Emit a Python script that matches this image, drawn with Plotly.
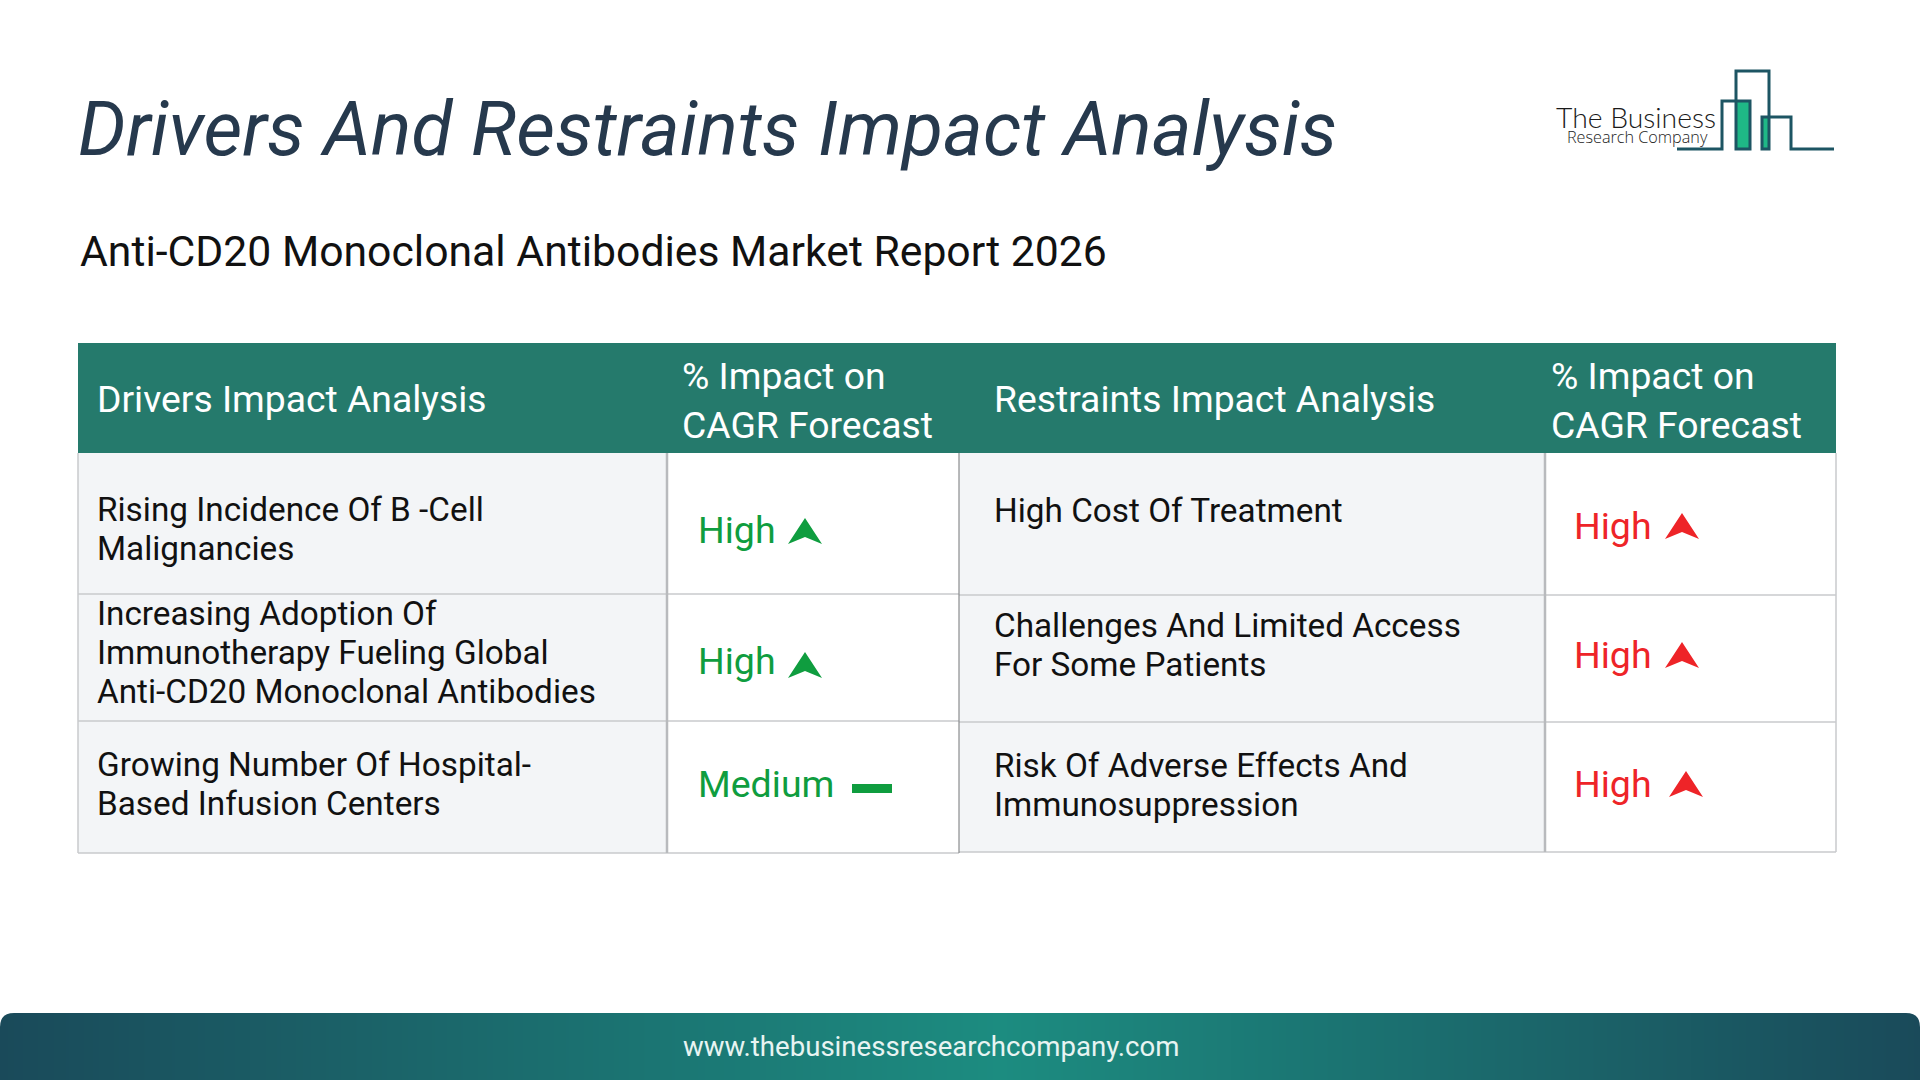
import plotly.graph_objects as go

# ---------- content ----------
title_text = "Drivers And Restraints Impact Analysis"
subtitle_text = "Anti-CD20 Monoclonal Antibodies Market Report 2026"
header_labels = ["Drivers Impact Analysis", "% Impact on<br>CAGR Forecast",
                 "Restraints Impact Analysis", "% Impact on<br>CAGR Forecast"]
drivers = ["Rising Incidence Of B -Cell<br>Malignancies",
           "Increasing Adoption Of<br>Immunotherapy Fueling Global<br>Anti-CD20 Monoclonal Antibodies",
           "Growing Number Of Hospital-<br>Based Infusion Centers"]
driver_impact = ["High", "High", "Medium"]
restraints = ["High Cost Of Treatment",
              "Challenges And Limited Access<br>For Some Patients",
              "Risk Of Adverse Effects And<br>Immunosuppression"]
restraint_impact = ["High", "High", "High"]
footer_text = "www.thebusinessresearchcompany.com"
logo_lines = ["The Business", "Research Company"]

# ---------- layout geometry (page pixels) ----------
X = [78, 667, 959, 1545, 1836]
HEAD_TOP, HEAD_BOT = 343, 453
ROW_L = [453, 594, 721, 853]
ROW_R = [453, 595, 722, 852]
LINE_H = 39
HEAD_LINE_H = 49
TEXT_X = [94.5, 679.5, 991.5, 1549]
IMPACT_X = [695.5, 1571.5]
D_TEXT_Y = [529, 652.5, 784]
R_TEXT_Y = [510, 645, 785]
D_IMP_Y = [530, 661, 784]
R_IMP_Y = [526, 655, 784]
D_ARROW_X = [805, 805, 0]
D_ARROW_Y = [544, 678, 0]
R_ARROW_X = [1682, 1682, 1686]
R_ARROW_Y = [539, 668, 797]
HEAD_Y = [399, 400, 399, 400]
GREEN, RED = "#0f9d3f", "#ee2428"
GRID, DARK_GRID = "#c9cacd", "#8a8c8e"
FONT = "Roboto"
FOOT_TOP = 1013

shapes, notes = [], []


def rect(x0, y0, x1, y1, fill, layer="above"):
    shapes.append(dict(type="rect", xref="x", yref="y", x0=x0, y0=y0, x1=x1, y1=y1,
                       fillcolor=fill, line=dict(width=0), layer=layer))


def line(x0, y0, x1, y1, color, width):
    shapes.append(dict(type="line", xref="x", yref="y", x0=x0, y0=y0, x1=x1, y1=y1,
                       line=dict(color=color, width=width)))


def path(d, fill="rgba(0,0,0,0)", color=None, width=0):
    shapes.append(dict(type="path", xref="x", yref="y", path=d, fillcolor=fill,
                       line=dict(color=color or fill, width=width)))


def text(x, y, s, size, color, family=FONT, anchor="left", weight=None, style=None):
    notes.append(dict(x=x, y=y, xref="x", yref="y", text=s, showarrow=False,
                      xanchor=anchor, yanchor="middle", align=anchor,
                      font=dict(family=family, size=size, color=color,
                                style=style or "normal", weight=weight or 400)))


def block(x, yc, s, size, color, spacing):
    parts = s.split("<br>")
    top = yc - spacing * (len(parts) - 1) / 2
    for i, p in enumerate(parts):
        text(x, top + i * spacing, p, size, color)


def arrow(x, base_y, color):
    path(f"M{x},{base_y-26} L{x+17},{base_y} L{x},{base_y-7} L{x-17},{base_y} Z", fill=color)


# cell fills
rect(X[0], HEAD_BOT, X[1], ROW_L[3], "#f3f5f7")
rect(X[2], HEAD_BOT, X[3], ROW_R[3], "#f3f5f7")
# header band
rect(X[0], HEAD_TOP, X[4], HEAD_BOT, "#257a6c")

# grid
for y in ROW_L[1:]:
    line(X[0], y, X[2], y, GRID, 1.5)
for y in ROW_R[1:]:
    line(X[2], y, X[4], y, GRID, 1.5)
line(X[0], HEAD_BOT, X[0], ROW_L[3], GRID, 1.5)
line(X[1], HEAD_BOT, X[1], ROW_L[3], "#b8babd", 2.5)
line(X[2], HEAD_BOT, X[2], ROW_L[3], DARK_GRID, 1.2)
line(X[3], HEAD_BOT, X[3], ROW_R[3], "#b8babd", 2.5)
line(X[4], HEAD_BOT, X[4], ROW_R[3], GRID, 1.5)

# titles
text(75.5, 129, title_text, 75.4, "#26394d", style="italic")
text(77.5, 251, subtitle_text, 42.7, "#111111")

# header text
for i, s in enumerate(header_labels):
    block(TEXT_X[i], HEAD_Y[i], s, 37.3, "#ffffff", HEAD_LINE_H)

# body
for i in range(3):
    block(TEXT_X[0], D_TEXT_Y[i], drivers[i], 33.3, "#111111", LINE_H)
    block(TEXT_X[2], R_TEXT_Y[i], restraints[i], 33.3, "#111111", LINE_H)
    text(IMPACT_X[0], D_IMP_Y[i], driver_impact[i], 37.5, GREEN)
    text(IMPACT_X[1], R_IMP_Y[i], restraint_impact[i], 37.5, RED)
    if driver_impact[i] == "High":
        arrow(D_ARROW_X[i], D_ARROW_Y[i], GREEN)
    else:
        rect(852, 784, 892, 793, GREEN)
    arrow(R_ARROW_X[i], R_ARROW_Y[i], RED)

# logo
LOGO = "#1d5563"
rect(1736, 101, 1750, 149, "#1fb886")
rect(1762, 117, 1769, 149, "#1fb886")
path("M1677,149 L1722,149 L1722,101 L1750,101 L1750,149 L1736,149 L1736,71 L1769,71 L1769,149 L1762,149 "
     "L1762,117 L1791,117 L1791,149 L1834,149", color=LOGO, width=3)
text(1636, 117, logo_lines[0], 28.3, "#1a1a1a", family="Lato", anchor="center", weight=300)
text(1637, 136.5, logo_lines[1], 16.2, "#222222", family="Open Sans", anchor="center", weight=300)

# footer: horizontal gradient colours
foot_edges = [0, 1000, 1920]
foot_vals = [0.0, 1.0, 0.0]
foot_trace = go.Heatmap(x=foot_edges, y=[FOOT_TOP, 1046, 1080], z=[foot_vals, foot_vals],
                        colorscale=[[0, "#1a4a5a"], [1, "#1c8c80"]], zmin=0, zmax=1,
                        zsmooth="best", showscale=False, hoverinfo="skip")
# rounded top corners
R = 14
path(f"M0,{FOOT_TOP} L{R},{FOOT_TOP} Q0,{FOOT_TOP} 0,{FOOT_TOP+R} Z", fill="#ffffff")
path(f"M1920,{FOOT_TOP} L{1920-R},{FOOT_TOP} Q1920,{FOOT_TOP} 1920,{FOOT_TOP+R} Z", fill="#ffffff")
text(931, 1046, footer_text, 27.6, "#e8f4f2", anchor="center")

fig = go.Figure(foot_trace)
fig.update_layout(width=1920, height=1080, margin=dict(l=0, r=0, t=0, b=0),
                  paper_bgcolor="#ffffff", plot_bgcolor="#ffffff",
                  shapes=shapes, annotations=notes, showlegend=False,
                  xaxis=dict(range=[0, 1920], visible=False, fixedrange=True),
                  yaxis=dict(range=[1080, 0], visible=False, fixedrange=True))
fig.write_html("out.html", config=dict(displayModeBar=False),
               post_script="document.body.style.margin='0';document.documentElement.style.overflow='hidden';")
